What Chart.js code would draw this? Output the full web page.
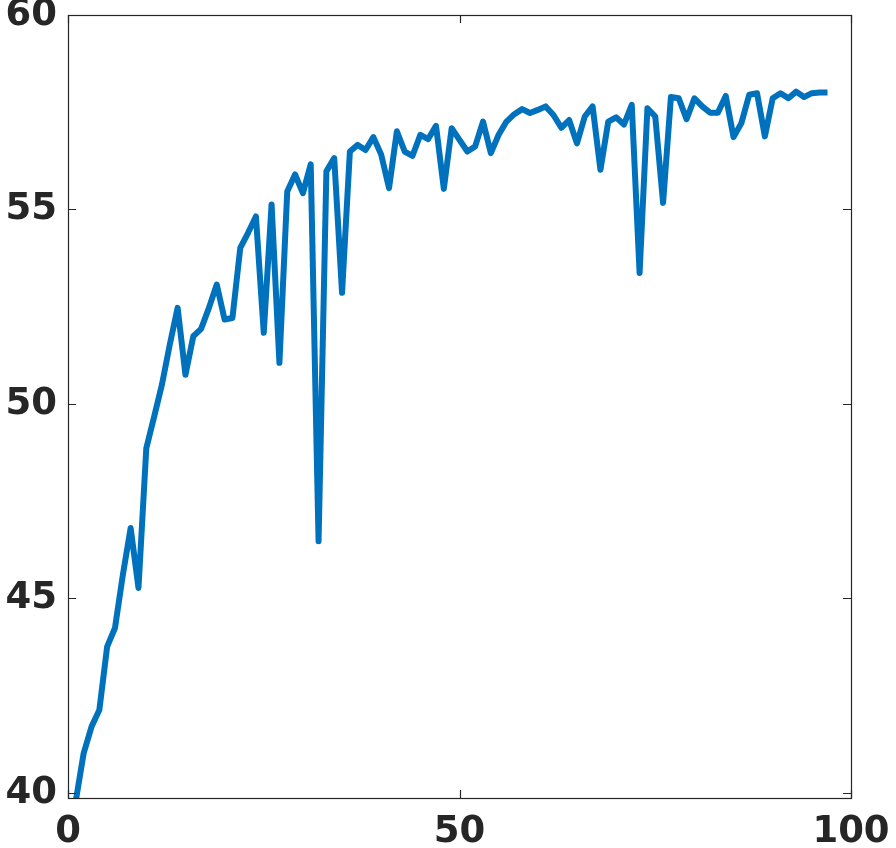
<!DOCTYPE html>
<html>
<head>
<meta charset="utf-8">
<script src="https://cdn.jsdelivr.net/npm/chart.js@4"></script>
<style>
  html, body { margin: 0; padding: 0; background: #fff; }
  #wrap { width: 896px; height: 848px; }
</style>
</head>
<body>
<div id="wrap"><canvas id="myChart" width="896" height="848"></canvas></div>
<script>
// x positions (epochs) and the values
const epochs = [];
for (let i = 1; i <= 97; i++) epochs.push(i);

const accuracy = [
  39.80, 41.02, 41.70, 42.13, 43.76, 44.24, 45.60, 46.81, 45.27, 48.86,
  49.67, 50.50, 51.53, 52.47, 50.75, 51.74, 51.93, 52.47, 53.07, 52.17,
  52.21, 54.01, 54.40, 54.82, 51.83, 55.13, 51.06, 55.46, 55.90, 55.42,
  56.16, 46.47, 55.98, 56.32, 52.86, 56.49, 56.66, 56.53, 56.86, 56.41,
  55.55, 57.01, 56.49, 56.38, 56.92, 56.81, 57.15, 55.53, 57.09, 56.79,
  56.49, 56.62, 57.26, 56.45, 56.92, 57.26, 57.45, 57.58, 57.48, 57.56,
  57.65, 57.43, 57.10, 57.30, 56.70, 57.39, 57.65, 56.02, 57.26, 57.37,
  57.18, 57.69, 53.37, 57.60, 57.39, 55.17, 57.89, 57.86, 57.32, 57.86,
  57.65, 57.49, 57.49, 57.92, 56.86, 57.22, 57.95, 57.99, 56.88, 57.86,
  57.99, 57.86, 58.03, 57.89, 57.99, 58.01, 58.01
];

const xTicks = [0, 50, 100];
const yTicks = [40, 45, 50, 55, 60];

const axisColor = '#262626';
const tickFont = { family: 'DejaVu Sans', size: 37, weight: 'bold', lineHeight: 1 };

// MATLAB-like box with inward ticks on all four sides
const boxPlugin = {
  id: 'box',
  afterDraw(chart) {
    const { ctx, chartArea: a, scales } = chart;
    const len = 8;
    ctx.save();
    ctx.strokeStyle = axisColor;
    ctx.lineWidth = 1.2;
    ctx.strokeRect(a.left + 0.5, a.top + 0.5, a.right - a.left, a.bottom - a.top);
    ctx.beginPath();
    xTicks.forEach(v => {
      const x = Math.round(scales.x.getPixelForValue(v)) + 0.5;
      ctx.moveTo(x, a.bottom); ctx.lineTo(x, a.bottom - len);
      ctx.moveTo(x, a.top); ctx.lineTo(x, a.top + len);
    });
    yTicks.forEach(v => {
      const y = Math.round(scales.y.getPixelForValue(v)) + 0.5;
      ctx.moveTo(a.left, y); ctx.lineTo(a.left + len, y);
      ctx.moveTo(a.right, y); ctx.lineTo(a.right - len, y);
    });
    ctx.stroke();
    ctx.restore();
  }
};

const ctx = document.getElementById('myChart').getContext('2d');

new Chart(ctx, {
  type: 'line',
  data: {
    labels: epochs,
    datasets: [{
      data: epochs.map((e, i) => ({ x: e, y: accuracy[i] })),
      borderColor: '#0072BD',
      borderWidth: 6,
      pointRadius: 0,
      tension: 0,
      borderJoinStyle: 'round',
      clip: 0
    }]
  },
  options: {
    responsive: false,
    animation: false,
    layout: { padding: { top: 15, right: 45, left: 0, bottom: 0 } },
    plugins: { legend: { display: false }, tooltip: { enabled: false } },
    scales: {
      x: {
        type: 'linear',
        min: 0,
        max: 100,
        afterBuildTicks: axis => { axis.ticks = xTicks.map(v => ({ value: v })); },
        afterFit: s => { s.height = 50; s.paddingLeft = 0; s.paddingRight = 0; },
        grid: { display: false, drawTicks: false },
        border: { display: false },
        ticks: { color: axisColor, font: tickFont, padding: 16, maxRotation: 0 }
      },
      y: {
        min: 39.87,
        max: 60,
        afterBuildTicks: axis => { axis.ticks = yTicks.map(v => ({ value: v })); },
        afterFit: s => { s.width = 68; s.paddingTop = 0; s.paddingBottom = 0; },
        grid: { display: false, drawTicks: false },
        border: { display: false },
        ticks: { color: axisColor, font: tickFont, padding: 11 }
      }
    }
  },
  plugins: [boxPlugin]
});
</script>
</body>
</html>
